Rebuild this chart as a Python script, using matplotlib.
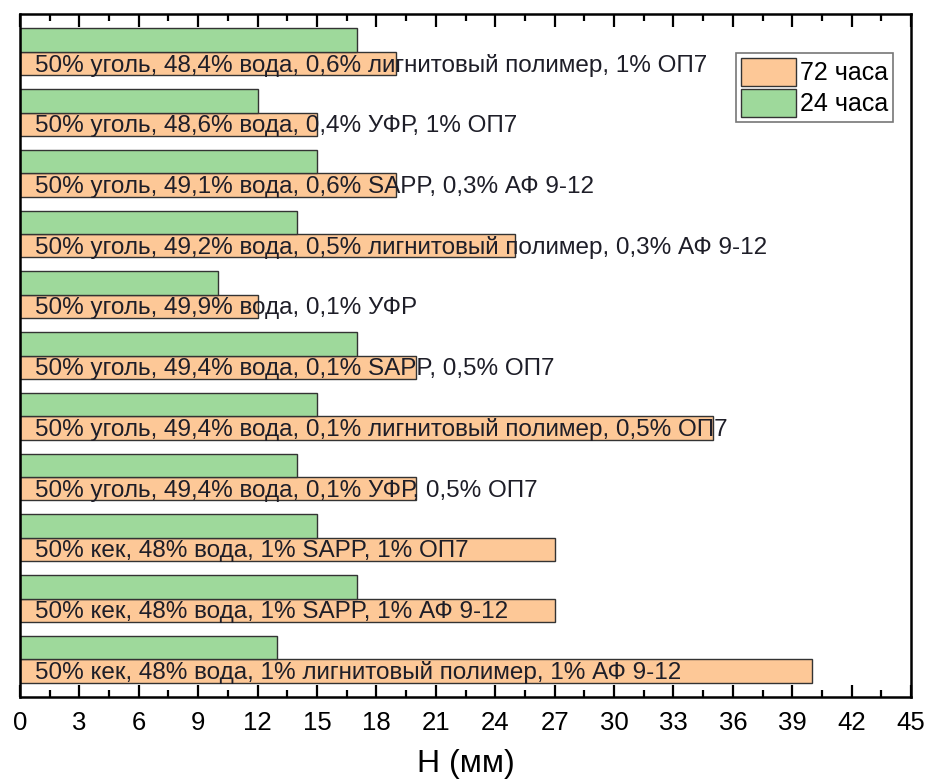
import numpy as np
import matplotlib.pyplot as plt
from matplotlib.ticker import MultipleLocator

plt.rcParams['font.family'] = ['Liberation Sans', 'DejaVu Sans']

# составы суспензий, сверху вниз
labels = [
    "50% уголь, 48,4% вода, 0,6% лигнитовый полимер, 1% ОП7",
    "50% уголь, 48,6% вода, 0,4% УФР, 1% ОП7",
    "50% уголь, 49,1% вода, 0,6% SAPP, 0,3% АФ 9-12",
    "50% уголь, 49,2% вода, 0,5% лигнитовый полимер, 0,3% АФ 9-12",
    "50% уголь, 49,9% вода, 0,1% УФР",
    "50% уголь, 49,4% вода, 0,1% SAPP, 0,5% ОП7",
    "50% уголь, 49,4% вода, 0,1% лигнитовый полимер, 0,5% ОП7",
    "50% уголь, 49,4% вода, 0,1% УФР, 0,5% ОП7",
    "50% кек, 48% вода, 1% SAPP, 1% ОП7",
    "50% кек, 48% вода, 1% SAPP, 1% АФ 9-12",
    "50% кек, 48% вода, 1% лигнитовый полимер, 1% АФ 9-12",
]
h_72 = [19, 15, 19, 25, 12, 20, 35, 20, 27, 27, 40]
h_24 = [17, 12, 15, 14, 10, 17, 15, 14, 15, 17, 13]

n = len(labels)
y = np.arange(n)[::-1]   # первая строка сверху
bh = 0.385

fig = plt.figure(figsize=(9.34, 7.82), dpi=100)
ax = fig.add_axes([0.0214, 0.1087, 0.9540, 0.8733])

ax.barh(y - bh / 2, h_72, height=bh, color='#FDC897', edgecolor='#333333',
        linewidth=1.0, label='72 часа', zorder=2)
ax.barh(y + bh / 2, h_24, height=bh, color='#9ED99B', edgecolor='#333333',
        linewidth=1.0, label='24 часа', zorder=2)

for yi, txt in zip(y, labels):
    ax.text(0.75, yi - bh / 2 - 0.03, txt, va='center', ha='left',
            fontsize=17.5, color='#1e1e28', zorder=3)

ax.set_xlim(0, 45)
ax.set_ylim(-0.62, n - 1 + 0.62)
ax.xaxis.set_major_locator(MultipleLocator(3))
ax.xaxis.set_minor_locator(MultipleLocator(1.5))
ax.set_yticks([])
ax.tick_params(axis='x', which='both', direction='in', top=True, bottom=True,
               labelsize=18.5, pad=10)
ax.tick_params(axis='x', which='major', length=9, width=1.6)
ax.tick_params(axis='x', which='minor', length=5, width=1.6)
for s in ax.spines.values():
    s.set_linewidth(1.8)
ax.set_xlabel("H (мм)", fontsize=23, labelpad=10)

leg = ax.legend(loc='upper right', bbox_to_anchor=(0.98, 0.9425), fontsize=18,
                frameon=True, fancybox=False, edgecolor='#555555',
                handlelength=2.2, handleheight=1.3, handletextpad=0.15,
                labelspacing=0.15, borderpad=0.2, borderaxespad=0)
leg.get_frame().set_linewidth(1.2)

fig.savefig('out.png', dpi=100)
